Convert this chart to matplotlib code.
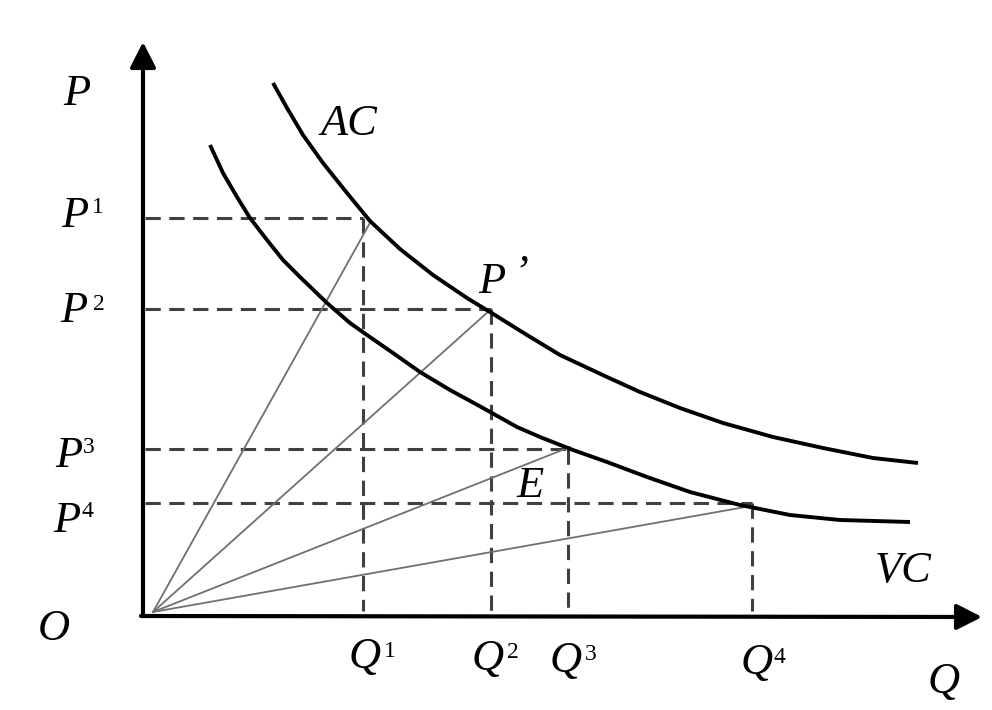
import matplotlib
matplotlib.use('Agg')
import matplotlib.pyplot as plt

# curve points (Q, P), origin at the axis corner
ac_q = [128, 142, 158, 178, 202, 225, 255, 288, 322, 345, 382, 415, 462, 495, 535, 578, 628, 678, 728, 773]
ac_p = [532, 507, 480, 452, 422, 394, 366, 340, 317, 303, 280, 260, 238, 223, 207, 192, 178, 167, 157, 152]

vc_q = [65, 78, 92, 105, 122, 138, 155, 182, 205, 222, 248, 275, 305, 338, 372, 395, 428, 462, 502, 545,
        595, 645, 695, 765]
vc_p = [470, 442, 418, 397, 375, 355, 338, 312, 292, 280, 262, 243, 225, 207, 188, 178, 165, 153, 138, 123,
        110, 100, 95, 93]

# rays from the origin to points on the curves
ray_q = [226, 344, 425, 606]
ray_p = [394, 304, 168, 109]

# price / quantity levels of the dashed guides
p_levels = [397, 306, 166, 112]
q_levels = [218, 346, 423, 607]
sup_labels = ['1', '2', '3', '4']

X0, Y0 = 145, 615  # pixel position of the origin


def px(x, y):
    # pixel position -> data position
    return x - X0, Y0 - y


fig = plt.figure(figsize=(9.92, 7.10), dpi=100)
ax = fig.add_axes([0, 0, 1, 1])
ax.set_xlim(-X0, 992 - X0)
ax.set_ylim(Y0 - 710, Y0)
ax.axis('off')

serif = ['Liberation Serif', 'DejaVu Serif']
big = dict(family=serif, style='italic', fontsize=32, color='black')
small = dict(family=serif, fontsize=17, color='black')

# axes with arrow heads
arrow = dict(arrowstyle='-|>,head_length=0.55,head_width=0.28', lw=3, color='black',
             mutation_scale=28, shrinkA=0, shrinkB=0)
ax.annotate('', xy=px(143, 42), xytext=px(143, 616), arrowprops=arrow)
ax.annotate('', xy=px(982, 617), xytext=px(141, 616), arrowprops=arrow)

# dashed guides
for p, q in zip(p_levels, q_levels):
    ax.plot([0, q], [p, p], color='#404040', lw=2.2, dashes=(5, 2.8), solid_capstyle='butt')
    ax.plot([q, q], [p, 4], color='#404040', lw=2.2, dashes=(5, 2.8), solid_capstyle='butt')

# rays
for q, p in zip(ray_q, ray_p):
    ax.plot([8, q], [3, p], color='#707070', lw=1.3)

# cost curves
ax.plot(ac_q, ac_p, color='black', lw=2.8, solid_capstyle='butt', solid_joinstyle='round')
ax.plot(vc_q, vc_p, color='black', lw=2.8, solid_capstyle='butt', solid_joinstyle='round')

# labels
ax.text(*px(63, 105), 'P', **big)
ax.text(*px(38, 640), 'O', **big)
ax.text(*px(928, 693), 'Q', **big)
ax.text(*px(320, 135), 'AC', **big)
ax.text(*px(875, 582), 'VC', **big)
ax.text(*px(517, 497), 'E', **big)
ax.text(*px(478, 293), 'P', **big)
ax.text(*px(513, 285), '\u2019', **big)

p_pos = [(61, 227), (60, 322), (55, 467), (53, 532)]
p_sup = [(92, 213), (93, 310), (83, 453), (82, 517)]
for (x, y), (sx, sy), s in zip(p_pos, p_sup, sup_labels):
    ax.text(*px(x, y), 'P', **big)
    ax.text(*px(sx, sy), s, **small)

q_pos = [(349, 668), (472, 670), (550, 672), (741, 674)]
q_sup = [(384, 657), (507, 658), (585, 660), (773, 663)]
for (x, y), (sx, sy), s in zip(q_pos, q_sup, sup_labels):
    ax.text(*px(x, y), 'Q', **big)
    ax.text(*px(sx, sy), s, **small)

fig.savefig('out.png', dpi=100, facecolor='white')
